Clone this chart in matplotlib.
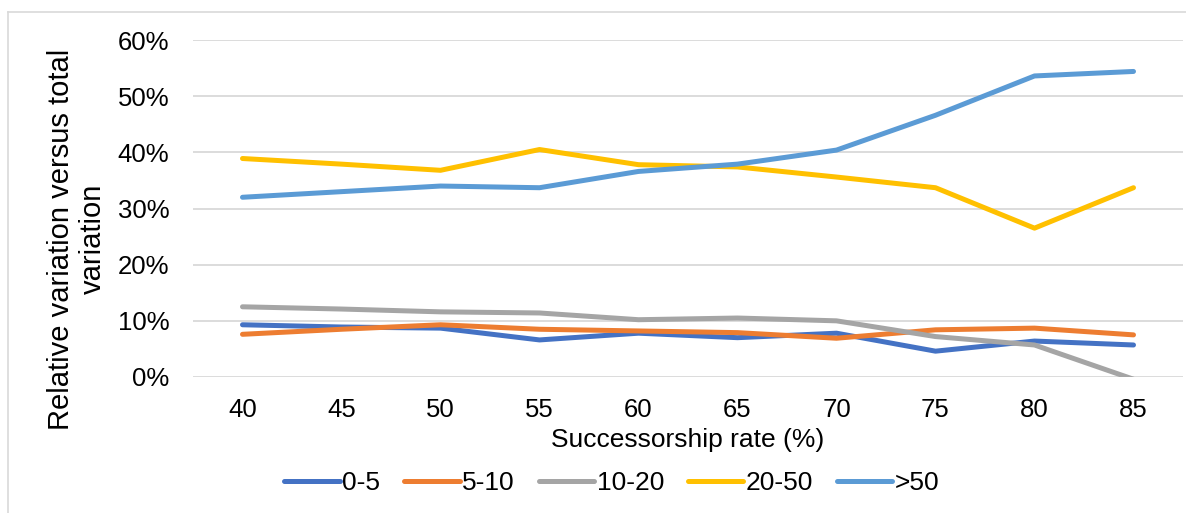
import matplotlib.pyplot as plt
from matplotlib.lines import Line2D
from matplotlib.ticker import PercentFormatter

plt.rcParams['font.family'] = ['Liberation Sans', 'DejaVu Sans']

rates = [40, 45, 50, 55, 60, 65, 70, 75, 80, 85]
labels = ['0-5', '5-10', '10-20', '20-50', '>50']
colors = ['#4472C4', '#ED7D31', '#A5A5A5', '#FFC000', '#5B9BD5']

s_0_5 = [9.3, 8.9, 8.7, 6.6, 7.8, 7.0, 7.8, 4.6, 6.4, 5.7]
s_5_10 = [7.6, 8.5, 9.3, 8.5, 8.2, 7.9, 6.9, 8.4, 8.7, 7.5]
s_10_20 = [12.5, 12.1, 11.6, 11.4, 10.2, 10.5, 10.0, 7.2, 5.7, -0.4]
s_20_50 = [38.9, 37.9, 36.8, 40.5, 37.8, 37.4, 35.6, 33.7, 26.5, 33.7]
s_50 = [32.0, 33.0, 34.0, 33.7, 36.6, 37.9, 40.4, 46.6, 53.6, 54.4]
series = [s_0_5, s_5_10, s_10_20, s_20_50, s_50]

fig = plt.figure(figsize=(11.86, 5.13), dpi=100)
ax = fig.add_axes([193/1186, 1-377/513, 990/1186, 337/513])

x = list(range(len(rates)))
for vals, lab, col in zip(series, labels, colors):
    ax.plot(x, vals, color=col, lw=3.6, label=lab, solid_capstyle='round', solid_joinstyle='round')

ax.set_xlim(-0.5, len(rates) - 0.5)
ax.set_ylim(0, 60)
ax.set_yticks(range(0, 61, 10))
ax.yaxis.set_major_formatter(PercentFormatter(decimals=0))
ax.set_xticks(x)
ax.set_xticklabels([str(r) for r in rates])
ax.grid(axis='y', color='#d9d9d9', lw=1.3)
ax.set_axisbelow(True)
for sp in ax.spines.values():
    sp.set_visible(False)
ax.tick_params(axis='both', length=0, labelsize=18.5, colors='#000000')
ax.tick_params(axis='y', pad=17)
ax.tick_params(axis='x', pad=15)

fig.text(77/1186, 1-239/513, 'Relative variation versus total\nvariation', rotation=90,
         ha='center', va='center', multialignment='center', fontsize=21, linespacing=1.15)
fig.text(688/1186, 1-440/513, 'Successorship rate (%)', ha='center', va='center', fontsize=19)

fig.legend(loc='center', bbox_to_anchor=(612/1186, 1-483/513), ncol=5, frameon=False,
           fontsize=19, handlelength=2.1, handletextpad=0.1, columnspacing=0.9)

# chart area border (left and top visible)
fig.add_artist(Line2D([8/1186, 8/1186], [0, 1-12/513], color='#d9d9d9', lw=1.2))
fig.add_artist(Line2D([8/1186, 1], [1-12/513, 1-12/513], color='#d9d9d9', lw=1.2))

fig.savefig('out.png', dpi=100)
